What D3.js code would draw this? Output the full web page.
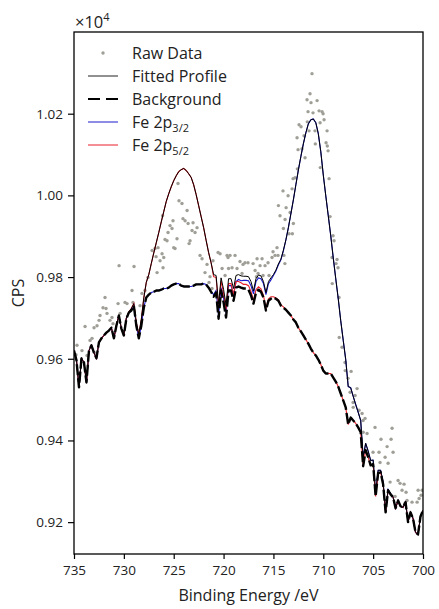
<!DOCTYPE html>
<html><head><meta charset="utf-8">
<script src="https://cdn.jsdelivr.net/npm/d3@7"></script>
<style>body{margin:0;background:#fff;} svg{display:block;font-family:"Open Sans",sans-serif;}</style>
</head><body><svg id="chart" width="439" height="609"></svg>
<script>
// ---- data ----
const energyStart = 735, energyStep = 0.25;
const background = [
 9620,9596,9530,9601,9591,9542,9620,9633,9615,9601,
 9640,9650,9657,9664,9669,9676,9650,9681,9706,9674,
 9657,9698,9713,9718,9730,9681,9650,9681,9725,9750,
 9757,9762,9764,9767,9767,9769,9772,9772,9774,9779,
 9782,9784,9784,9779,9777,9777,9777,9777,9779,9782,
 9782,9782,9784,9782,9774,9764,9752,9762,9698,9767,
 9738,9701,9767,9767,9742,9774,9777,9774,9772,9772,
 9769,9755,9735,9762,9769,9764,9750,9718,9742,9747,
 9750,9747,9742,9730,9725,9720,9713,9706,9696,9689,
 9676,9667,9657,9647,9637,9625,9615,9608,9598,9586,
 9571,9564,9564,9564,9554,9544,9532,9515,9498,9481,
 9439,9456,9449,9442,9432,9420,9337,9376,9359,9339,
 9342,9263,9320,9322,9293,9224,9278,9268,9261,9234,
 9253,9239,9236,9249,9200,9224,9209,9175,9170,9214,
 9229];
// Fe 2p5/2 component (height above background), starting at 730 eV
const fe52Start = 730;
const fe52Comp = [
 2,2,2,5,5,7,10,15,24,37,
 49,71,95,117,142,166,188,213,230,242,
 254,264,274,284,289,284,276,267,247,220,
 193,166,137,108,86,71,49,37,29,24,
 22,20,17,17,15,15,12,12,10,10,
 10,10,7,7,7,7,5,5,5,5,
 2,2,2,2,2];
// Fe 2p3/2 component (height above background), starting at 721 eV
const fe32Start = 721;
const fe32Comp = [
 5,5,7,7,10,10,12,12,15,15,
 17,17,20,20,22,24,24,27,29,32,
 34,39,42,46,54,68,88,112,139,171,
 208,249,293,337,386,428,469,506,538,560,
 572,570,553,521,479,435,386,337,293,252,
 215,178,147,117,93,73,59,46,37,29,
 22,17,15,12,10,7,7,5,5,2,
 2,2];
const rawEnergy = [
 734.80,734.70,734.20,733.89,733.69,733.39,733.19,732.99,732.95,732.69,
 732.49,732.39,732.09,731.89,731.79,731.69,731.39,731.19,731.09,730.58,
 730.48,730.38,729.88,729.68,729.18,729.08,728.98,728.38,728.18,727.88,
 727.58,727.17,726.87,726.77,726.67,726.57,726.17,726.37,726.07,726.00,
 726.12,725.87,725.67,725.57,725.37,725.17,725.07,725.00,724.87,724.67,
 724.57,724.47,724.17,724.07,723.86,723.66,723.56,723.46,723.36,723.16,
 723.06,722.86,722.66,722.36,722.16,721.86,721.66,721.46,721.36,721.16,
 721.06,720.55,720.35,720.15,719.85,719.65,719.55,719.50,719.35,719.15,
 718.85,718.65,718.35,718.15,718.05,717.85,717.55,717.04,716.84,716.64,
 716.70,716.54,716.34,716.14,716.04,715.84,715.54,715.44,715.14,715.04,
 714.84,714.64,714.54,714.50,714.34,714.04,714.00,713.95,713.83,713.73,
 713.53,713.43,713.33,713.13,713.10,713.03,713.00,713.85,712.83,712.63,
 712.60,712.53,712.43,712.23,712.13,711.93,711.83,711.63,711.60,711.53,
 711.43,711.33,711.23,711.13,711.03,710.83,710.80,710.62,710.42,710.32,
 710.30,710.12,710.02,709.92,709.72,709.62,709.60,709.52,709.42,709.32,
 709.12,709.10,709.02,708.92,708.72,708.62,708.52,708.42,708.40,708.12,
 707.82,707.80,707.52,707.31,707.21,707.01,707.00,706.81,706.61,706.41,
 706.11,706.01,706.00,705.81,705.61,705.01,704.81,704.41,704.31,704.21,
 703.80,703.60,703.50,703.30,703.20,703.10,703.00,702.80,702.50,702.30,
 702.10,701.90,701.80,701.70,701.60,701.10,700.59,700.49,700.39,700.19,
 700.09];
const rawCps = [
 9610,9633,9620,9679,9608,9645,9650,9676,9615,9681,
 9694,9706,9725,9750,9723,9711,9694,9701,9686,9735,
 9828,9711,9738,9735,9767,9738,9826,9730,9760,9767,
 9799,9865,9870,9850,9811,9872,9857,9840,9823,9848,
 9950,9892,9889,9909,9926,9919,9938,9872,9870,9894,
 10029,9987,9980,9943,9938,9963,9931,9882,9889,9914,
 9933,9909,9921,9853,9845,9811,9831,9787,9801,9772,
 9840,9860,9857,9821,9804,9853,9848,9821,9853,9823,
 9853,9821,9838,9809,9831,9835,9835,9833,9816,9845,
 9801,9809,9828,9845,9804,9828,9835,9804,9848,9862,
 9853,9872,9853,9975,9950,10011,9919,9853,9941,9970,
 9999,9906,9958,10016,9906,10041,9931,9833,10043,10141,
 10065,10112,10173,10168,10114,10146,10092,10234,10180,10205,
 10158,10249,10227,10298,10202,10158,10126,10232,10207,10178,
 10068,10205,10200,10185,10129,10158,10121,10109,10041,9948,
 9848,9784,9901,9889,9833,9843,9823,9750,9652,9628,
 9591,9571,9552,9518,9569,9493,9481,9510,9527,9474,
 9466,9449,9420,9454,9417,9371,9432,9371,9346,9403,
 9359,9385,9344,9298,9403,9430,9371,9263,9302,9295,
 9278,9293,9246,9273,9253,9249,9249,9278,9258,9266,
 9278];
const xTicks = [735,730,725,720,715,710,705,700];
const yTicks = [9200,9400,9600,9800,10000,10200];
const xDomain = [735,700];
const yDomain = [9122,10400];
const legendLabels = ["Raw Data","Fitted Profile","Background","Fe 2p","Fe 2p"];
const legendSubs = ["","","","3/2","5/2"];
const xLabel = "Binding Energy /eV", yLabel = "CPS";

// ---- derived series ----
const energies = background.map((_, i) => energyStart - i * energyStep);
const off52 = Math.round((energyStart - fe52Start) / energyStep);
const off32 = Math.round((energyStart - fe32Start) / energyStep);
const c52 = i => fe52Comp[i - off52] || 0;
const c32 = i => fe32Comp[i - off32] || 0;
const fe32 = background.map((b, i) => b + c32(i));
const fe52 = background.map((b, i) => b + c52(i));
const fitted = background.map((b, i) => b + c32(i) + c52(i));

// ---- layout ----
const svg = d3.select("#chart");
const L = 74, R = 423, T = 32, B = 554;
const x = d3.scaleLinear().domain(xDomain).range([L, R]);
const y = d3.scaleLinear().domain(yDomain).range([B, T]);

svg.append("defs").append("clipPath").attr("id","clip")
  .append("rect").attr("x",L).attr("y",T).attr("width",R-L).attr("height",B-T);

const plot = svg.append("g").attr("clip-path","url(#clip)");

// raw data
plot.append("g").selectAll("circle").data(rawEnergy).join("circle")
  .attr("cx", d => x(d)).attr("cy", (d,i) => y(rawCps[i])).attr("r", 1.7)
  .attr("fill", "#a09f97");

const line = arr => d3.line().x((d,i) => x(energies[i])).y(d => y(d))(arr);

plot.append("path").attr("d", line(fe32)).attr("fill","none").attr("stroke","#1a1acc").attr("stroke-width",1.1);
plot.append("path").attr("d", line(fe52)).attr("fill","none").attr("stroke","#e8202a").attr("stroke-width",1.1);
plot.append("path").attr("d", line(fitted)).attr("fill","none").attr("stroke","#000").attr("stroke-width",1);
plot.append("path").attr("d", line(background)).attr("fill","none").attr("stroke","#000").attr("stroke-width",2.4)
  .attr("stroke-dasharray","11,3").attr("stroke-linejoin","round");

// axes
const xAxis = d3.axisBottom(x).tickValues(xTicks).tickSize(5).tickPadding(6).tickFormat(d3.format("d"));
const yAxis = d3.axisLeft(y).tickValues(yTicks).tickSize(6).tickPadding(5).tickFormat(d => (d/1e4).toFixed(2));
const gx = svg.append("g").attr("transform",`translate(0,${B})`).call(xAxis);
const gy = svg.append("g").attr("transform",`translate(${L},0)`).call(yAxis);
[gx, gy].forEach(g => {
  g.select(".domain").remove();
  g.selectAll(".tick line").attr("stroke","#000").attr("stroke-width",1.2);
  g.selectAll(".tick text").attr("fill","#222").style("font-size","13.5px").style("font-family","'Open Sans',sans-serif");
});
// frame
svg.append("rect").attr("x",L).attr("y",T).attr("width",R-L).attr("height",B-T)
  .attr("fill","none").attr("stroke","#000").attr("stroke-width",1.3);

// axis labels
svg.append("text").attr("x",(L+R)/2).attr("y",601).attr("text-anchor","middle")
  .style("font-size","16px").attr("fill","#222").text(xLabel);
svg.append("text").attr("transform",`translate(24,${(T+B)/2}) rotate(-90)`).attr("text-anchor","middle")
  .style("font-size","16px").attr("fill","#222").text(yLabel);
const mult = svg.append("text").attr("x",75).attr("y",28).style("font-size","16.5px").attr("fill","#222");
mult.append("tspan").text("×10");
mult.append("tspan").attr("dy",-7).style("font-size","11px").text("4");

// legend
const lg = svg.append("g");
legendLabels.forEach((lab, k) => {
  const cy = 53 + k * 23;
  if (k === 0) {
    lg.append("circle").attr("cx",103).attr("cy",cy).attr("r",1.7).attr("fill","#a09f97");
  } else {
    const s = lg.append("line").attr("x1",88).attr("x2",118).attr("y1",cy).attr("y2",cy);
    if (k === 1) s.attr("stroke","#222").attr("stroke-width",1);
    if (k === 2) s.attr("stroke","#000").attr("stroke-width",2.2).attr("stroke-dasharray","12,6");
    if (k === 3) s.attr("stroke","#1a1acc").attr("stroke-width",1);
    if (k === 4) s.attr("stroke","#e8202a").attr("stroke-width",1);
  }
  const t = lg.append("text").attr("x",132).attr("y",cy+6).style("font-size","16px").attr("fill","#222");
  t.append("tspan").text(lab);
  if (legendSubs[k]) t.append("tspan").attr("dy",4).style("font-size","11px").text(legendSubs[k]);
});
</script></body></html>
